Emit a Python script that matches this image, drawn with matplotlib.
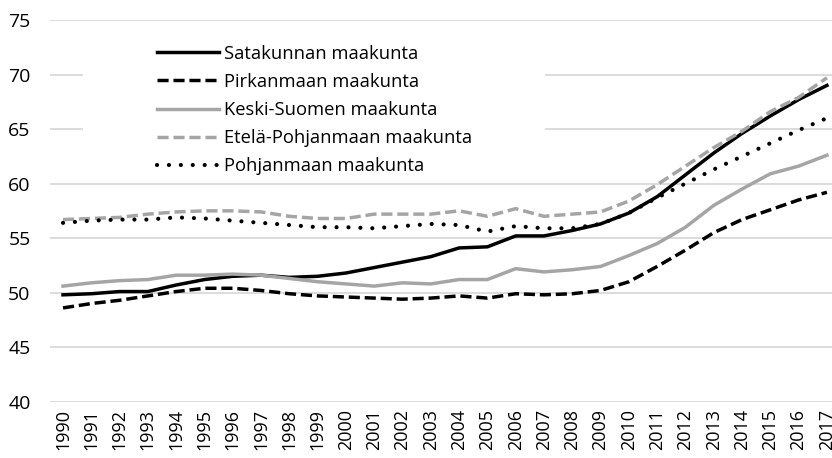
import matplotlib
matplotlib.use("Agg")
import matplotlib.pyplot as plt
from matplotlib.patches import Rectangle

years = list(range(1990, 2018))
satakunta = [49.8, 49.9, 50.1, 50.1, 50.7, 51.2, 51.5, 51.6, 51.4, 51.5, 51.8, 52.3, 52.8, 53.3,
             54.1, 54.2, 55.2, 55.2, 55.7, 56.3, 57.3, 58.8, 60.8, 62.8, 64.6, 66.2, 67.7, 69.0]
pirkanmaa = [48.6, 49.0, 49.3, 49.7, 50.1, 50.4, 50.4, 50.2, 49.9, 49.7, 49.6, 49.5, 49.4, 49.5,
             49.7, 49.5, 49.9, 49.8, 49.9, 50.2, 51.0, 52.4, 53.9, 55.5, 56.7, 57.6, 58.5, 59.2]
keskisuomi = [50.6, 50.9, 51.1, 51.2, 51.6, 51.6, 51.7, 51.6, 51.3, 51.0, 50.8, 50.6, 50.9, 50.8,
              51.2, 51.2, 52.2, 51.9, 52.1, 52.4, 53.4, 54.5, 56.0, 58.0, 59.5, 60.9, 61.6, 62.6]
etelapohjanmaa = [56.7, 56.8, 56.9, 57.2, 57.4, 57.5, 57.5, 57.4, 57.0, 56.8, 56.8, 57.2, 57.2, 57.2,
                  57.5, 57.0, 57.7, 57.0, 57.2, 57.4, 58.4, 59.9, 61.6, 63.3, 64.8, 66.6, 67.9, 69.7]
pohjanmaa = [56.4, 56.6, 56.7, 56.7, 56.9, 56.8, 56.6, 56.4, 56.2, 56.0, 56.0, 55.9, 56.1, 56.3,
             56.2, 55.6, 56.1, 55.9, 55.9, 56.3, 57.3, 58.7, 60.0, 61.3, 62.5, 63.7, 64.9, 66.0]
labels = ["Satakunnan maakunta", "Pirkanmaan maakunta", "Keski-Suomen maakunta",
          "Etelä-Pohjanmaan maakunta", "Pohjanmaan maakunta"]

plt.rcParams['font.family'] = ['Open Sans', 'DejaVu Sans']

W, H = 832, 458
fig = plt.figure(figsize=(W/100, H/100), dpi=100)
ax = fig.add_axes([50/W, (H-401.7)/H, 1 - 50/W, (401.7-20)/H])

gray = "#a5a5a5"
ax.plot(years, satakunta, color="black", lw=2.5, label=labels[0], zorder=3)
ax.plot(years, pirkanmaa, color="black", lw=2.5, ls=(0, (3.2, 1.4)), label=labels[1], zorder=3)
ax.plot(years, keskisuomi, color=gray, lw=2.5, label=labels[2], zorder=3)
ax.plot(years, etelapohjanmaa, color=gray, lw=2.5, ls=(0, (3.2, 1.4)), label=labels[3], zorder=3)
ax.plot(years, pohjanmaa, color="black", lw=3.0, ls=(0, (0.01, 2.85)), dash_capstyle='round',
        label=labels[4], zorder=3)

ax.set_xlim(1989.54, 2017.18)
ax.set_ylim(40, 75)
ax.set_yticks(range(40, 80, 5))
ax.set_xticks(years)
ax.set_xticklabels([str(y) for y in years], rotation=90, fontsize=13)
ax.tick_params(axis='y', labelsize=14, length=0, pad=14)
ax.tick_params(axis='x', length=0, pad=5)
ax.grid(axis='y', color="#d9d9d9", lw=1.3)
ax.set_axisbelow(True)
for s in ax.spines.values():
    s.set_visible(False)

# white legend background box
ax.add_patch(Rectangle(((83-50)/782, 0.594), (545-83)/782, 0.38, transform=ax.transAxes,
                       facecolor='white', edgecolor='none', zorder=1))

leg = ax.legend(loc='upper left', bbox_to_anchor=((157-50)/782, 0.935), frameon=False,
                fontsize=13.2, handlelength=3.4, handletextpad=0.25, labelspacing=0.55,
                borderpad=0, borderaxespad=0)

fig.savefig("out.png", dpi=100)
